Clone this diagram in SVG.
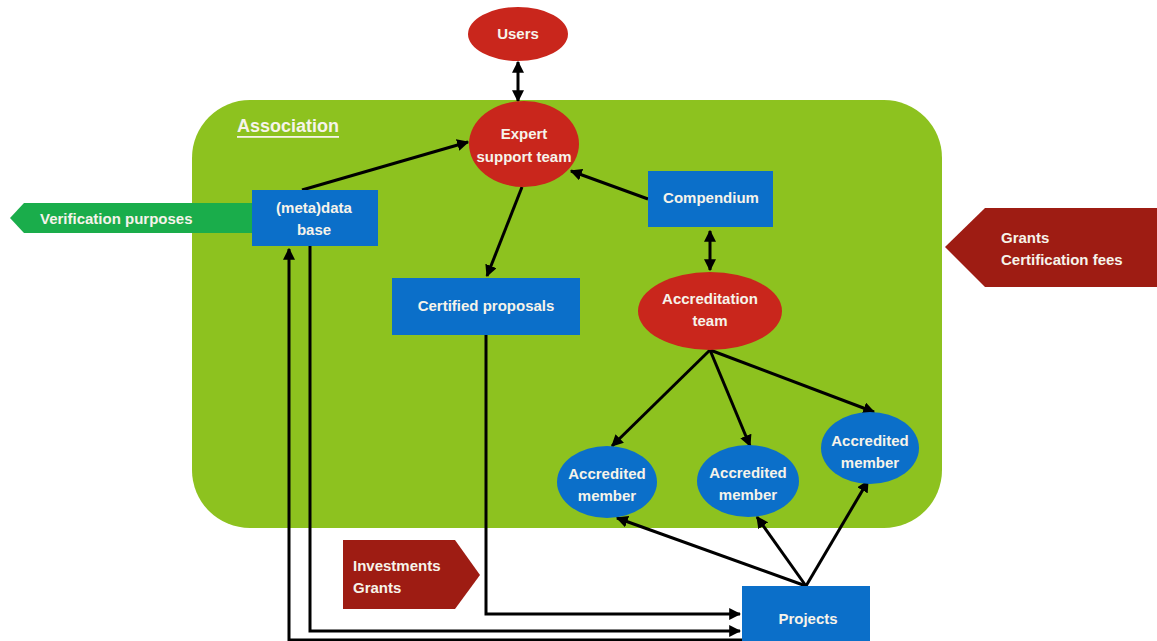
<svg xmlns="http://www.w3.org/2000/svg" width="1157" height="641" viewBox="0 0 1157 641">
<defs>
<marker id="ah" viewBox="0 0 10 10" refX="9" refY="5" markerWidth="4" markerHeight="4" orient="auto-start-reverse" markerUnits="strokeWidth">
<path d="M0,0 L10,5 L0,10 z" fill="#000"/>
</marker>
<style>
.t{font-family:"Liberation Sans",Arial,sans-serif;font-weight:bold;font-size:15px;fill:#f6f3ea;text-anchor:middle;dominant-baseline:central}
.tl{text-anchor:start}
.red{fill:#c9261c}
.blue{fill:#0b6fc9}
.dred{fill:#9e1c13}
.ca{fill:none;stroke:#000;stroke-width:3;marker-end:url(#ah)}
.cb{fill:none;stroke:#000;stroke-width:3;marker-start:url(#ah);marker-end:url(#ah)}
</style>
</defs>
<rect width="1157" height="641" fill="#ffffff"/>
<g id="association">
<rect x="192" y="100" width="750" height="428" rx="58" ry="58" fill="#8dc21f"/>
<text class="t tl" x="237" y="126" style="font-size:18px;text-decoration:underline">Association</text>
</g>
<g id="verification">
<polygon points="10,218 24,203 252,203 252,233 24,233" fill="#1aad4b"/>
<text class="t tl" x="40" y="218">Verification purposes</text>
</g>
<g id="grants-fees">
<polygon points="945,247 985,208 1157,208 1157,287 985,287" class="dred"/>
<text class="t tl" x="1001" y="237">Grants</text>
<text class="t tl" x="1001" y="259">Certification fees</text>
</g>
<g id="investments">
<polygon points="343,540 455,540 480,575 455,609 343,609" class="dred"/>
<text class="t tl" x="353" y="565">Investments</text>
<text class="t tl" x="353" y="587">Grants</text>
</g>
<g id="connectors">
<path class="cb" d="M518,62 L518,101"/>
<path class="ca" d="M302,190 L468,142"/>
<path class="ca" d="M648,199 L571,171"/>
<path class="ca" d="M522,187 L487,276"/>
<path class="cb" d="M710,231 L710,270"/>
<path class="ca" d="M710,350 L612,446"/>
<path class="ca" d="M710,350 L750,446"/>
<path class="ca" d="M710,350 L874,412"/>
<path class="ca" d="M806,586 L617,518"/>
<path class="ca" d="M806,586 L757,517"/>
<path class="ca" d="M806,586 L868,481"/>
<path class="ca" d="M486,335 L486,614 L740,614"/>
<path class="ca" d="M310,246 L310,631 L740,631"/>
<path class="ca" d="M742,640 L289,640 L289,249"/>
</g>
<g id="users">
<ellipse cx="518" cy="34" rx="50" ry="27" class="red"/>
<text class="t" x="518" y="33">Users</text>
</g>
<g id="expert">
<ellipse cx="524" cy="144" rx="55" ry="43" class="red"/>
<text class="t" x="524" y="133">Expert</text>
<text class="t" x="524" y="156">support team</text>
</g>
<g id="metadata">
<rect x="252" y="190" width="126" height="56" class="blue"/>
<text class="t" x="314" y="207">(meta)data</text>
<text class="t" x="314" y="229">base</text>
</g>
<g id="compendium">
<rect x="648" y="171" width="125" height="56" class="blue"/>
<text class="t" x="711" y="197">Compendium</text>
</g>
<g id="certified">
<rect x="392" y="278" width="188" height="57" class="blue"/>
<text class="t" x="486" y="305">Certified proposals</text>
</g>
<g id="accreditation">
<ellipse cx="710" cy="311" rx="72" ry="39" class="red"/>
<text class="t" x="710" y="298">Accreditation</text>
<text class="t" x="710" y="320">team</text>
</g>
<g id="member1">
<ellipse cx="607" cy="482" rx="50" ry="36" class="blue"/>
<text class="t" x="607" y="473">Accredited</text>
<text class="t" x="607" y="495">member</text>
</g>
<g id="member2">
<ellipse cx="748" cy="481" rx="51" ry="36" class="blue"/>
<text class="t" x="748" y="472">Accredited</text>
<text class="t" x="748" y="494">member</text>
</g>
<g id="member3">
<ellipse cx="870" cy="448" rx="49" ry="36" class="blue"/>
<text class="t" x="870" y="440">Accredited</text>
<text class="t" x="870" y="462">member</text>
</g>
<g id="projects">
<rect x="742" y="586" width="128" height="56" class="blue"/>
<text class="t" x="808" y="618">Projects</text>
</g>
</svg>
